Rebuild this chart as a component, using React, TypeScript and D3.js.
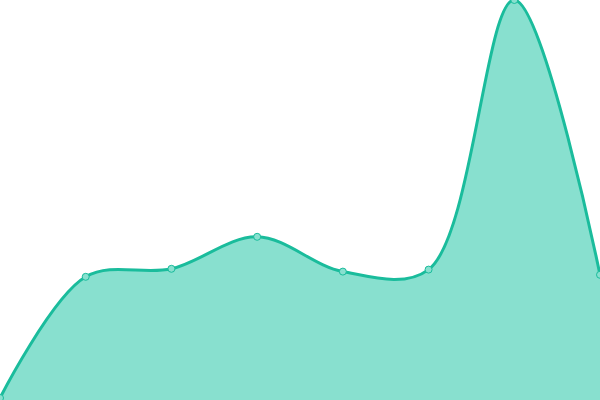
import * as d3 from "d3";

const WIDTH = 600;
const HEIGHT = 400;

// values (0..100 scale)
const steps = [0, 1, 2, 3, 4, 5, 6, 7];
const values = [0.5, 30.8, 32.8, 40.8, 32.1, 32.6, 100, 31.3];

const App = () => {
    const xScale = d3.scaleLinear().domain([0, steps.length - 1]).range([0, WIDTH]);
    const yScale = d3.scaleLinear().domain([0, 100]).range([HEIGHT, 0]);

    const curve = d3.curveCatmullRom.alpha(0.5);

    const areaBuilder = d3.area<number>()
        .x((_, i) => xScale(steps[i]))
        .y0(HEIGHT)
        .y1(d => yScale(d))
        .curve(curve);

    const lineBuilder = d3.line<number>()
        .x((_, i) => xScale(steps[i]))
        .y(d => yScale(d))
        .curve(curve);

    return (
        <div style={{ position: "absolute", top: 0, left: 0 }}>
            <svg width={WIDTH} height={HEIGHT} style={{ display: "block" }}>
                <path d={areaBuilder(values)} fill="#88e0cf" />
                <path d={lineBuilder(values)} fill="none" stroke="#1abc9c" strokeWidth={3} />
                {values.map((v, i) => (
                    <circle key={i} cx={xScale(steps[i])} cy={yScale(v)} r={3.5}
                        fill="#88e0cf" stroke="#1abc9c" strokeWidth={1} />
                ))}
            </svg>
        </div>
    );
};

export default App;
